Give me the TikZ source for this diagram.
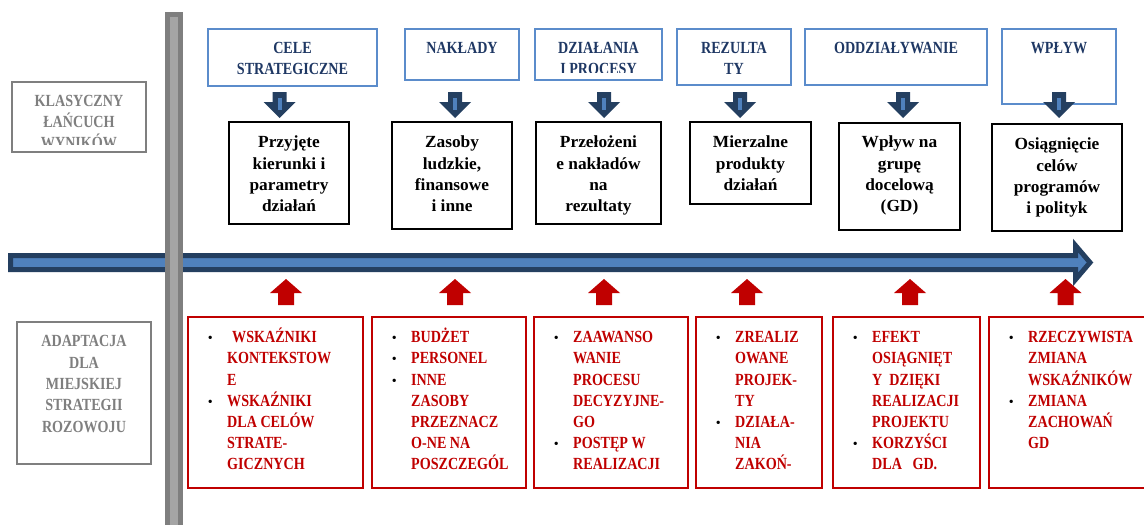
\documentclass[tikz,border=0pt]{standalone}
\usepackage{fontspec}
\setmainfont{Liberation Serif}
\newfontfamily\capfont{Liberation Serif}[FakeStretch=0.83]
\newfontfamily\lowfont{Liberation Serif}[FakeStretch=1.02]
\definecolor{navy}{HTML}{243F60}
\definecolor{hdrtext}{HTML}{1F3864}
\definecolor{midblue}{HTML}{4F81BD}
\definecolor{boxblue}{HTML}{5B8CCB}
\definecolor{darkred}{HTML}{C00000}
\definecolor{barout}{HTML}{7F7F7F}
\definecolor{barin}{HTML}{A5A5A5}
\definecolor{graytext}{HTML}{7F7F7F}
\newcommand{\bul}{\llap{\normalfont\color{black}\fontsize{14}{14}\selectfont •\hspace{14.5pt}}}
\newcommand{\fl}{\rule{0pt}{16pt}}
\begin{document}
\begin{tikzpicture}[x=1pt,y=-1pt,
  hdrbox/.style={draw=boxblue, line width=2pt, inner sep=0pt},
  blkbox/.style={draw=black, line width=2pt, inner sep=0pt},
  redbox/.style={draw=darkred, line width=2pt, inner sep=0pt},
  graybox/.style={draw=barout, line width=2pt, inner sep=0pt},
  hdrtxt/.style={font={\capfont\bfseries\fontsize{17}{21.3}\selectfont}, text=hdrtext, align=center, inner sep=0pt, anchor=north},
  graytxt/.style={font={\capfont\bfseries\fontsize{17}{21.3}\selectfont}, text=graytext, align=center, inner sep=0pt, anchor=north},
  blktxt/.style={font={\lowfont\bfseries\fontsize{17}{21.3}\selectfont}, text=black, align=center, inner sep=0pt, anchor=north},
  redtxt/.style={font={\capfont\bfseries\fontsize{17}{21.2}\selectfont}, text=darkred, align=left, inner sep=0pt, anchor=north west},
  downarr/.style={fill=navy},
  uparr/.style={fill=darkred}
]
\clip (0,0) rectangle (1144,525);
\fill[white] (0,0) rectangle (1144,525);

% timeline arrow
\draw[line width=5pt, draw=navy, fill=midblue, line join=miter]
  (10.5,255.5) -- (1075.5,255.5) -- (1075.5,245.5) -- (1090,262.5) -- (1075.5,279.5) -- (1075.5,269.5) -- (10.5,269.5) -- cycle;

% vertical bar
\fill[barout] (164.5,11.7) rectangle (183.3,530);
\fill[barin] (170,16.7) rectangle (177.7,530);

% left labels
\node[graybox, minimum width=134pt, minimum height=70pt] (g1) at (79,117) {};
\begin{scope}
  \clip (12,82) rectangle (146,144);
  \node[graytxt] (g1t) at (79,90) {\fl KLASYCZNY\\ŁAŃCUCH\\WYNIKÓW};
\end{scope}
\node[graybox, minimum width=134pt, minimum height=142pt] (g2) at (84,393) {};
\node[graytxt] (g2t) at (84,330.7) {\fl ADAPTACJA\\DLA\\MIEJSKIEJ\\STRATEGII\\ROZOWOJU};

% header boxes
\node[hdrbox, minimum width=169pt, minimum height=57pt] (h1) at (292.5,57.5) {};
\node[hdrbox, minimum width=114pt, minimum height=51pt] (h2) at (462,54.5) {};
\node[hdrbox, minimum width=127pt, minimum height=51pt] (h3) at (598.5,54.5) {};
\node[hdrbox, minimum width=114pt, minimum height=56pt] (h4) at (734,57) {};
\node[hdrbox, minimum width=182pt, minimum height=56pt] (h5) at (896,57) {};
\node[hdrbox, minimum width=114pt, minimum height=75pt] (h6) at (1059,66.5) {};

\node[hdrtxt] (h1t) at (292.5,37.3) {\fl CELE\\STRATEGICZNE};
\node[hdrtxt] (h2t) at (462,37.3) {\fl NAKŁADY};
\begin{scope}
  \clip (535,29) rectangle (662,72);
  \node[hdrtxt] (h3t) at (598.5,37.3) {\fl DZIAŁANIA\\I PROCESY};
\end{scope}
\node[hdrtxt] (h4t) at (734,37.3) {\fl REZULTA\\TY};
\node[hdrtxt] (h5t) at (896,37.3) {\fl ODDZIAŁYWANIE};
\node[hdrtxt] (h6t) at (1059,37.3) {\fl WPŁYW};

% black boxes
\node[blkbox, minimum width=120pt, minimum height=102pt] (b1) at (289,173) {};
\node[blkbox, minimum width=120pt, minimum height=107pt] (b2) at (452,175.5) {};
\node[blkbox, minimum width=125pt, minimum height=102pt] (b3) at (598.5,173) {};
\node[blkbox, minimum width=121pt, minimum height=82pt] (b4) at (750.5,163) {};
\node[blkbox, minimum width=121pt, minimum height=107pt] (b5) at (899.5,176.5) {};
\node[blkbox, minimum width=130pt, minimum height=107pt] (b6) at (1057,177.5) {};

\node[blktxt] (b1t) at (289,131.5) {\fl Przyjęte\\kierunki i\\parametry\\działań};
\node[blktxt] (b2t) at (452,131.5) {\fl Zasoby\\ludzkie,\\finansowe\\i inne};
\node[blktxt] (b3t) at (598.5,131.5) {\fl Przełożeni\\e nakładów\\na\\rezultaty};
\node[blktxt] (b4t) at (750.5,131.5) {\fl Mierzalne\\produkty\\działań};
\node[blktxt] (b5t) at (899.5,131.5) {\fl Wpływ na\\grupę\\docelową\\(GD)};
\node[blktxt] (b6t) at (1057,133.5) {\fl Osiągnięcie\\celów\\programów\\i polityk};

% down arrows
\foreach \c in {279.5,455,604,740,903,1059}{
  \fill[downarr] (\c-7,92) -- (\c+7,92) -- (\c+7,102) -- (\c+16,102) -- (\c,118) -- (\c-16,102) -- (\c-7,102) -- cycle;
  \fill[midblue] (\c-2,98) rectangle (\c+2,110);
}

% up arrows
\foreach \c in {286,455,604,747,910,1065.5}{
  \fill[uparr] (\c,279) -- (\c+16,293) -- (\c+8,293) -- (\c+8,305) -- (\c-8,305) -- (\c-8,293) -- (\c-16,293) -- cycle;
}

% red boxes
\node[redbox, minimum width=175pt, minimum height=171pt] (r1) at (275.5,402.5) {};
\node[redbox, minimum width=154pt, minimum height=171pt] (r2) at (449,402.5) {};
\node[redbox, minimum width=154pt, minimum height=171pt] (r3) at (611,402.5) {};
\node[redbox, minimum width=126pt, minimum height=171pt] (r4) at (759,402.5) {};
\node[redbox, minimum width=147pt, minimum height=171pt] (r5) at (906.5,402.5) {};
\node[redbox, minimum width=160pt, minimum height=171pt] (r6) at (1069,402.5) {};

\node[redtxt] (r1t) at (227,326.5) {\fl\bul\hspace{5pt}WSKAŹNIKI\\KONTEKSTOW\\E\\\bul WSKAŹNIKI\\DLA CELÓW\\STRATE-\\GICZNYCH};
\node[redtxt] (r2t) at (411,326.5) {\fl\bul BUDŻET\\\bul PERSONEL\\\bul INNE\\ZASOBY\\PRZEZNACZ\\O-NE NA\\POSZCZEGÓL};
\node[redtxt] (r3t) at (573,326.5) {\fl\bul ZAAWANSO\\WANIE\\PROCESU\\DECYZYJNE-\\GO\\\bul POSTĘP W\\REALIZACJI};
\node[redtxt] (r4t) at (735,326.5) {\fl\bul ZREALIZ\\OWANE\\PROJEK-\\TY\\\bul DZIAŁA-\\NIA\\ZAKOŃ-};
\node[redtxt] (r5t) at (872,326.5) {\fl\bul EFEKT\\OSIĄGNIĘT\\Y\ \ DZIĘKI\\REALIZACJI\\PROJEKTU\\\bul KORZYŚCI\\DLA\ \ \ GD.};
\node[redtxt] (r6t) at (1028,326.5) {\fl\bul RZECZYWISTA\\ZMIANA\\WSKAŹNIKÓW\\\bul ZMIANA\\ZACHOWAŃ\\GD};
\end{tikzpicture}
\end{document}
